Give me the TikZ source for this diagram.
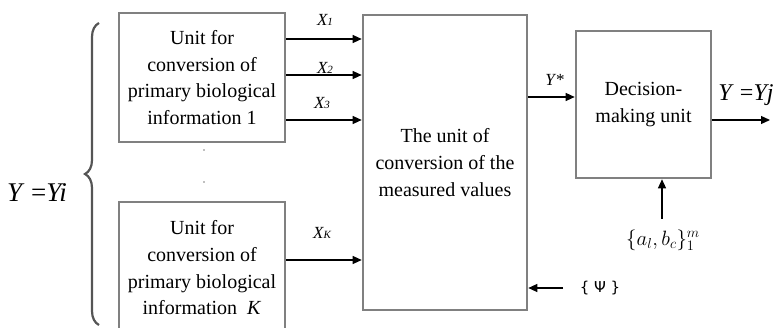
\documentclass[tikz,border=0pt]{standalone}
\usepackage{fontspec}
\setmainfont{Liberation Serif}
\newfontfamily\psifont{DejaVu Sans}
\usepackage{tikz}
\usetikzlibrary{arrows.meta, positioning, calc, decorations.pathreplacing}
\definecolor{boxgray}{RGB}{128,128,128}
\definecolor{bracegray}{RGB}{85,85,85}
\tikzset{
  unitbox/.style={rectangle, draw=boxgray, line width=2.6pt, align=center,
    font=\fontsize{20}{26.7}\selectfont, inner sep=0pt},
  arrow/.style={-{Triangle[length=9pt,width=8pt]}, line width=1.2pt, color=black},
  siglabel/.style={font=\fontsize{17}{20}\selectfont\itshape, inner sep=0pt}
}

\begin{document}
\begin{tikzpicture}[x=1pt, y=1pt]
  \useasboundingbox (0,0) rectangle (777,327);

  % input units
  \node[unitbox, minimum width=166pt, minimum height=129pt] (unit1) at (202,249.5)
    {Unit for\\conversion of\\primary biological\\information 1};
  \node[unitbox, minimum width=166pt, minimum height=132pt] (unitK) at (202,59)
    {Unit for\\conversion of\\primary biological\\information \ \textit{K}};

  % dots between the units
  \fill[boxgray] (204,177) circle (0.9pt);
  \fill[boxgray] (204,145) circle (0.9pt);

  % brace and input set
  \draw[decorate, decoration={brace, amplitude=14pt}, line width=2.2pt, color=bracegray]
    (99,2) -- (99,304);
  \node[font=\fontsize{27}{30}\selectfont, inner sep=0pt] (yi) at (37,134)
    {\textit{Y} =\textit{Yi}};

  % measured values and decision
  \node[unitbox, minimum width=164pt, minimum height=295pt] (meas) at (445,164.5)
    {The unit of\\conversion of the\\measured values};
  \node[unitbox, minimum width=135pt, minimum height=147pt] (dec) at (643.5,222.5)
    {Decision-\\making unit};

  % signals X
  \draw[arrow] ($(unit1.east)+(0,38.5)$) -- ($(unit1.east -| meas.west)+(0,38.5)$);
  \draw[arrow] ($(unit1.east)+(0,2.5)$) -- ($(unit1.east -| meas.west)+(0,2.5)$);
  \draw[arrow] ($(unit1.east)+(0,-42.5)$) -- ($(unit1.east -| meas.west)+(0,-42.5)$);
  \draw[arrow] ($(unitK.east)+(0,8)$) -- ($(unitK.east -| meas.west)+(0,8)$);
  \node[siglabel] (x1) at (325,307) {X{\fontsize{11}{13}\selectfont 1}};
  \node[siglabel] (x2) at (325,259) {X{\fontsize{11}{13}\selectfont 2}};
  \node[siglabel] (x3) at (322,224) {X{\fontsize{11}{13}\selectfont 3}};
  \node[siglabel] (xk) at (322,94) {X{\fontsize{11}{13}\selectfont K}};

  % Y* into decision unit
  \draw[arrow] ($(meas.east)+(0,65.5)$) -- ($(meas.east -| dec.west)+(0,65.5)$);
  \node[siglabel] (ystar) at (555,247) {Y\textup{*}};

  % output
  \coordinate (yout) at (770,207);
  \draw[arrow] (dec.east |- yout) -- (yout);
  \node[font=\fontsize{24}{27}\selectfont, inner sep=0pt] (yj) at (746,232)
    {\textit{Y} =\textit{Yj}};

  % parameters
  \coordinate (abin) at (662,108);
  \draw[arrow] (abin) -- (abin |- dec.south);
  \node[font=\fontsize{21}{25}\selectfont, inner sep=0pt] (ab) at (663,87)
    {$\{a_l,b_c\}_1^m$};

  % psi
  \coordinate (psiin) at (563,39);
  \draw[arrow] (psiin) -- (psiin -| meas.east);
  \node[font=\fontsize{15}{18}\selectfont\psifont, inner sep=0pt] (psi) at (600,39)
    {\{ Ψ \}};
\end{tikzpicture}
\end{document}
